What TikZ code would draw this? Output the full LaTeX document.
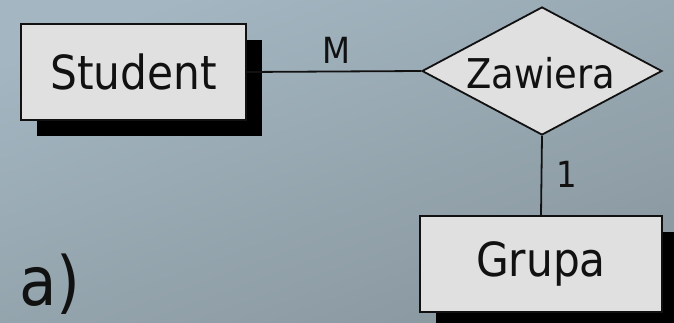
\documentclass[tikz,border=0pt]{standalone}
\usepackage{fontspec}
\setmainfont{DejaVu Sans Condensed}
\usetikzlibrary{shapes.geometric,shadows}
\definecolor{bgtop}{RGB}{163,182,193}
\definecolor{bgbot}{RGB}{138,152,160}
\definecolor{boxfill}{RGB}{224,224,224}
\definecolor{ink}{RGB}{17,17,17}
\tikzset{
  entity/.style={draw=ink, line width=1.8pt, fill=boxfill, rectangle, inner sep=0pt,
    minimum height=96pt, font=\fontsize{47}{50}\selectfont, text=ink,
    drop shadow={shadow xshift=16pt, shadow yshift=-16pt, fill=black, opacity=1}},
  relation/.style={draw=ink, line width=1.8pt, fill=boxfill, diamond, inner sep=0pt,
    minimum width=240pt, minimum height=128pt},
  reltext/.style={font=\fontsize{41}{44}\selectfont, text=ink, inner sep=0pt},
  conn/.style={draw=ink, line width=1.8pt},
  card/.style={font=\fontsize{36}{40}\selectfont, text=ink, inner sep=0pt}
}
\begin{document}
\begin{tikzpicture}[x=1pt,y=-1pt]
\useasboundingbox (0,0) rectangle (674,323);
\shade[top color=bgtop, bottom color=bgbot, shading angle=20] (0,0) rectangle (674,323);
\node[entity, minimum width=225pt] (student) at (133.5,72) {Student};
\node[relation] (zawiera) at (542,71) {};
\node[reltext] (zawieratext) at (541,73) {Zawiera};
\node[entity, minimum width=242pt] (grupa) at (541,264) {Grupa};
\draw[conn] (student.east) -- (zawiera.west);
\draw[conn] (zawiera.south) -- (grupa.north);
\node[card] (m) at (336,50) {M};
\node[card] (one) at (567,174) {1};
\node[font=\fontsize{68}{74}\selectfont, text=ink, anchor=base west, inner sep=0pt] (a) at (19,305) {a)};
\end{tikzpicture}
\end{document}
